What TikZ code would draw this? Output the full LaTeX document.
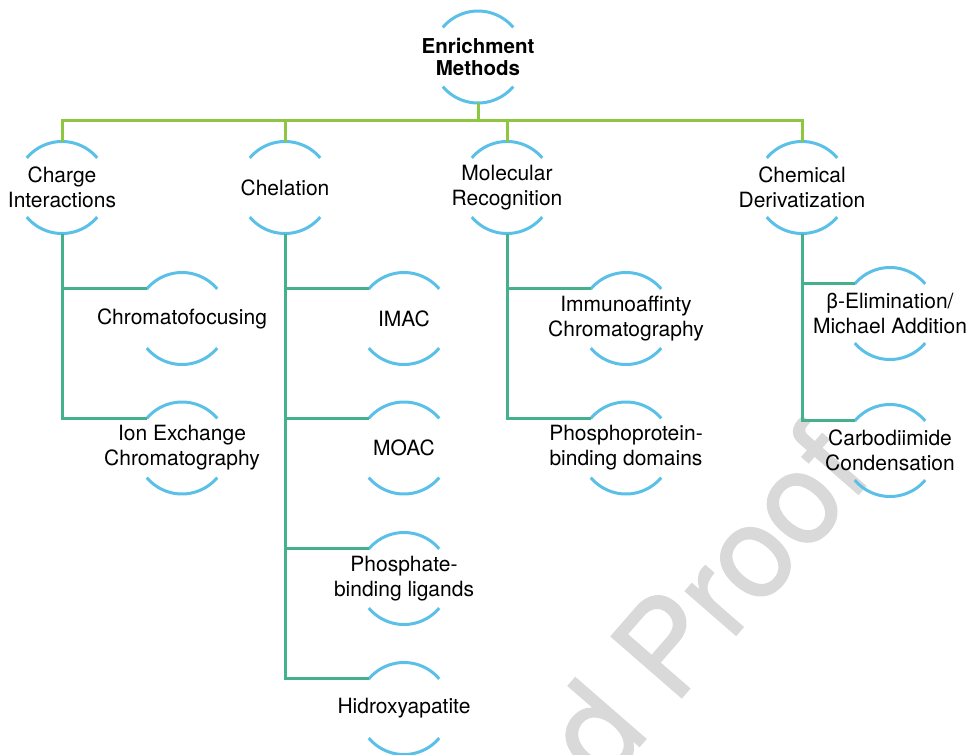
\documentclass[tikz,border=0pt]{standalone}
\usepackage{fontspec}
\setmainfont{TeX Gyre Heros}
\newfontfamily\wmfont[FakeBold=1.2]{TeX Gyre Heros}
\definecolor{arcblue}{HTML}{5BC0E8}
\definecolor{topgreen}{HTML}{8DC641}
\definecolor{linkteal}{HTML}{45B08C}
\definecolor{wmgray}{HTML}{D9D9D9}
\tikzset{
  lbl/.style={align=center, font=\fontsize{21}{25}\selectfont, inner sep=0pt},
  toplbl/.style={align=center, font=\bfseries\fontsize{20.5}{22.5}\selectfont, inner sep=0pt},
  arcline/.style={draw=arcblue, line width=3pt},
  linkA/.style={draw=topgreen, line width=3pt},
  linkB/.style={draw=linkteal, line width=3pt},
  wm/.style={text=wmgray, font=\wmfont\fontsize{128}{128}\selectfont, inner sep=0pt}
}
\newcommand\enode[4][lbl]{%
  \node[#1] (#2) at (#3) {#4};
  \draw[arcline] ([shift={(40:46pt)}]#2.center) arc[start angle=40,end angle=140,radius=46pt];
  \draw[arcline] ([shift={(-140:46pt)}]#2.center) arc[start angle=-140,end angle=-40,radius=46pt];
  \coordinate (#2-t) at ([yshift=46pt]#2.center);
  \coordinate (#2-b) at ([yshift=-46pt]#2.center);
  \coordinate (#2-l) at ([shift={(140:46pt)}]#2.center);
}
\begin{document}
\begin{tikzpicture}[x=1pt,y=-1pt]
\useasboundingbox (0,0) rectangle (970,755);
% watermark
\node[wm, rotate=49, anchor=base west] (wmark) at (604,787) {d Proof};
% nodes
\enode[toplbl]{em}{478,57}{Enrichment\\Methods}
\enode{ci}{62,187.5}{Charge\\Interactions}
\enode{ch}{285,187.5}{Chelation}
\enode{mr}{507,187.5}{Molecular\\Recognition}
\enode{cd}{802,187.5}{Chemical\\Derivatization}
\enode{cf}{182,318.5}{Chromatofocusing}
\enode{ie}{182,448}{Ion Exchange\\Chromatography}
\enode{imac}{404,318.5}{IMAC}
\enode{moac}{404,448}{MOAC}
\enode{pbl}{404,578.5}{Phosphate-\\binding ligands}
\enode{hap}{404,708.5}{Hidroxyapatite}
\enode{ia}{626,318.5}{Immunoaffinty\\Chromatography}
\enode{pbd}{626,448}{Phosphoprotein-\\binding domains}
\enode{be}{890,313.5}{β-Elimination/\\Michael Addition}
\enode{cc}{890,450.5}{Carbodiimide\\Condensation}
% top-level links
\coordinate (bus) at (478,120.5);
\draw[linkA] (em-b) -- (em-b |- bus);
\draw[linkA] (ci-t) -- (ci-t |- bus) -- (cd-t |- bus) -- (cd-t);
\draw[linkA] (ch-t |- bus) -- (ch-t);
\draw[linkA] (mr-t |- bus) -- (mr-t);
% second-level links
\draw[linkB] (ci-b) |- (cf-l);
\draw[linkB] (ci-b) |- (ie-l);
\draw[linkB] (ch-b) |- (imac-l);
\draw[linkB] (ch-b) |- (moac-l);
\draw[linkB] (ch-b) |- (pbl-l);
\draw[linkB] (ch-b) |- (hap-l);
\draw[linkB] (mr-b) |- (ia-l);
\draw[linkB] (mr-b) |- (pbd-l);
\draw[linkB] (cd-b) |- (be-l);
\draw[linkB] (cd-b) |- (cc-l);
\end{tikzpicture}
\end{document}
